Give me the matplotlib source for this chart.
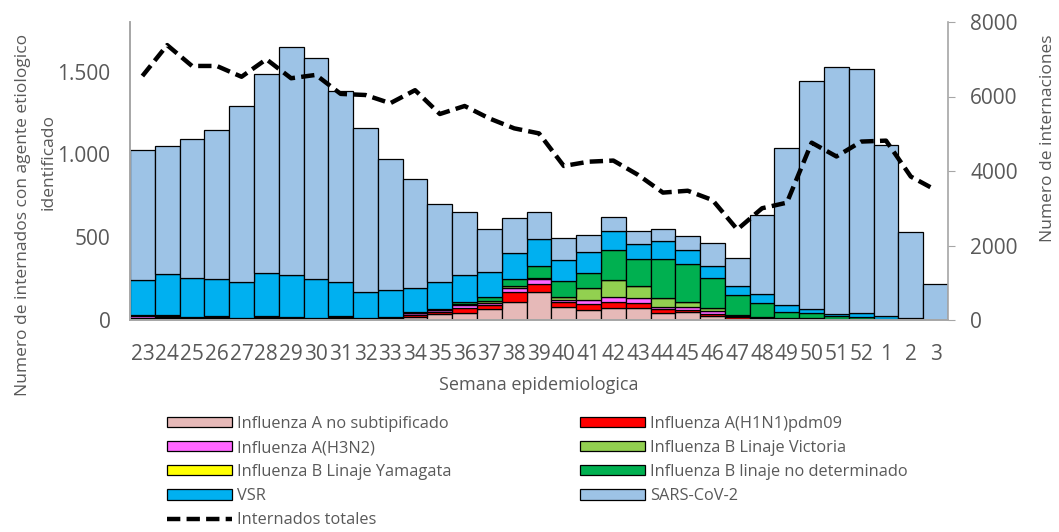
import matplotlib.pyplot as plt
import numpy as np

plt.rcParams['font.family'] = ['Open Sans', 'DejaVu Sans']

# semanas epidemiologicas
weeks = ['23', '24', '25', '26', '27', '28', '29', '30', '31', '32', '33', '34', '35',
         '36', '37', '38', '39', '40', '41', '42', '43', '44', '45', '46', '47', '48',
         '49', '50', '51', '52', '1', '2', '3']

flu_a_nosub = [8, 10, 6, 6, 4, 8, 4, 3, 6, 3, 6, 20, 35, 44, 64, 111, 171, 76, 60, 74,
               71, 40, 50, 26, 8, 5, 3, 2, 1, 1, 1, 1, 0]
flu_h1n1 = [4, 6, 4, 6, 2, 4, 6, 2, 4, 3, 4, 12, 12, 30, 27, 56, 44, 35, 35, 33,
            32, 24, 8, 10, 10, 5, 3, 2, 1, 1, 1, 1, 0]
flu_h3n2 = [14, 10, 6, 8, 2, 8, 6, 3, 8, 3, 3, 8, 14, 15, 13, 24, 33, 10, 26, 30,
            32, 16, 18, 18, 5, 5, 3, 2, 1, 1, 0, 1, 0]
flu_b_vic = [2, 2, 1, 2, 1, 1, 1, 1, 2, 1, 1, 2, 2, 5, 8, 14, 4, 20, 70, 105,
             70, 51, 31, 16, 10, 5, 5, 4, 1, 1, 1, 1, 0]
flu_b_yam = [0] * 33
flu_b_nd = [2, 3, 2, 2, 1, 2, 2, 1, 3, 2, 2, 4, 3, 17, 25, 43, 76, 94, 95, 181,
            163, 237, 231, 185, 115, 81, 32, 30, 20, 16, 4, 2, 1]
vsr = [212, 246, 236, 226, 218, 262, 254, 238, 204, 155, 165, 145, 162, 161, 155, 155,
       159, 127, 127, 114, 91, 109, 85, 71, 57, 57, 45, 26, 10, 20, 20, 8, 2]
sars = [783, 775, 841, 895, 1066, 1200, 1376, 1332, 1157, 990, 791, 662, 474, 378, 256,
        211, 167, 131, 100, 83, 78, 71, 86, 137, 169, 478, 950, 1377, 1496, 1474, 1033, 515, 212]

internados = [6550, 7380, 6820, 6820, 6530, 7000, 6490, 6580, 6070, 6040, 5820, 6170,
              5530, 5745, 5410, 5145, 5010, 4135, 4250, 4280, 3895, 3420, 3470, 3220,
              2430, 3000, 3150, 4760, 4390, 4790, 4815, 3850, 3490]

left_ticks = [0, 500, 1000, 1500]
left_ticklabels = ['0', '500', '1.000', '1.500']
right_ticks = [0, 2000, 4000, 6000, 8000]

series = [
    (flu_a_nosub, '#E6B9B8', 'Influenza A no subtipificado'),
    (flu_h1n1, '#FF0000', 'Influenza A(H1N1)pdm09'),
    (flu_h3n2, '#FF66FF', 'Influenza A(H3N2)'),
    (flu_b_vic, '#92D050', 'Influenza B Linaje Victoria'),
    (flu_b_yam, '#FFFF00', 'Influenza B Linaje Yamagata'),
    (flu_b_nd, '#00B050', 'Influenza B linaje no determinado'),
    (vsr, '#00B0F0', 'VSR'),
    (sars, '#9DC3E6', 'SARS-CoV-2'),
]

gray = '#595959'
spine_gray = '#A6A6A6'
W, H = 1059, 532

fig = plt.figure(figsize=(W / 100, H / 100), dpi=100)
ax = fig.add_axes([130 / W, 1 - 320 / H, 818 / W, 298 / H])
ax2 = ax.twinx()

x = np.arange(len(weeks))
bottom = np.zeros(len(weeks))
handles = {}
for vals, col, name in series:
    vals = np.array(vals, dtype=float)
    b = ax.bar(x, vals, width=1.0, bottom=bottom, color=col, edgecolor='black',
               linewidth=0.9, label=name)
    handles[name] = b
    bottom += vals

line, = ax2.plot(x, internados, color='black', linewidth=3.2, dashes=(3, 1.4),
                 label='Internados totales')

ax.set_xlim(-0.5, len(weeks) - 0.5)
ax.set_ylim(0, 1800)
ax.set_yticks(left_ticks)
ax.set_yticklabels(left_ticklabels)
ax.set_xticks(x)
ax.set_xticklabels(weeks)
ax.tick_params(axis='y', length=0, labelsize=15, labelcolor=gray, pad=14)
ax.tick_params(axis='x', length=0, labelsize=15, labelcolor=gray, pad=17)

ax2.set_ylim(0, 8000)
ax2.set_yticks(right_ticks)
ax2.tick_params(axis='y', length=5, color=spine_gray, labelsize=15, labelcolor=gray, pad=11)

for a in (ax, ax2):
    a.spines['top'].set_visible(False)
    for s in ('left', 'right', 'bottom'):
        a.spines[s].set_color(spine_gray)
        a.spines[s].set_linewidth(1.2)
ax.spines['right'].set_visible(False)

# axis titles placed like in the original (not centred on the plot)
fig.text(539 / W, 1 - 385 / H, 'Semana epidemiologica', fontsize=13, color=gray,
         ha='center', va='center')
fig.text(23 / W, 1 - 215 / H, 'Numero de internados con agente etiologico', fontsize=12.5,
         color=gray, rotation=90, ha='center', va='center')
fig.text(49 / W, 1 - 162 / H, 'identificado', fontsize=12.5, color=gray, rotation=90,
         ha='center', va='center')
fig.text(1048 / W, 1 - 138 / H, 'Numero de internaciones', fontsize=12.5, color=gray,
         rotation=90, ha='center', va='center')

col1 = [handles['Influenza A no subtipificado'], handles['Influenza A(H3N2)'],
        handles['Influenza B Linaje Yamagata'], handles['VSR'], line]
col2 = [handles['Influenza A(H1N1)pdm09'], handles['Influenza B Linaje Victoria'],
        handles['Influenza B linaje no determinado'], handles['SARS-CoV-2']]

leg_kw = dict(loc='upper left', frameon=False, fontsize=11.8, handlelength=3.96,
              handleheight=0.6, handletextpad=0.3, labelspacing=0.49,
              borderpad=0, borderaxespad=0, labelcolor=gray)
fig.legend(col1, [h.get_label() for h in col1], bbox_to_anchor=(167 / W, 1 - 416 / H), **leg_kw)
fig.legend(col2, [h.get_label() for h in col2], bbox_to_anchor=(580 / W, 1 - 416 / H), **leg_kw)

fig.savefig('out.png', dpi=100)
